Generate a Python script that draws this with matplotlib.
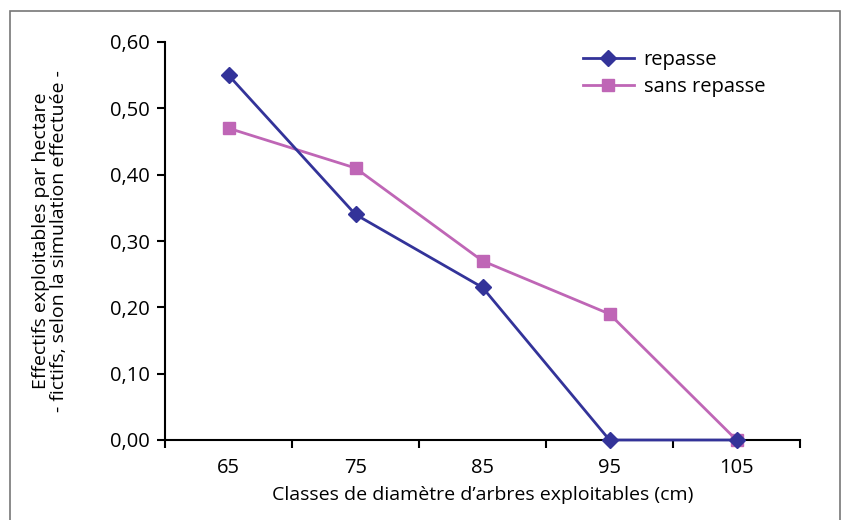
import matplotlib
matplotlib.use("Agg")
import matplotlib.pyplot as plt
from matplotlib.patches import Rectangle
from matplotlib.ticker import FixedLocator, FuncFormatter

categories = ["65", "75", "85", "95", "105"]
repasse = [0.55, 0.34, 0.23, 0.00, 0.00]
sans_repasse = [0.47, 0.41, 0.27, 0.19, 0.00]

plt.rcParams['font.family'] = ['Open Sans', 'DejaVu Sans']

fig = plt.figure(figsize=(8.44, 5.2), dpi=100)
ax = fig.add_axes([165/844, 1-440/520, (800-165)/844, (440-42)/520])

x = list(range(len(categories)))
ax.plot(x, repasse, color='#333399', marker='D', markersize=8, linewidth=2, label='repasse', clip_on=False, zorder=4)
ax.plot(x, sans_repasse, color='#bf66b6', marker='s', markersize=9, linewidth=2, label='sans repasse', clip_on=False, zorder=3)

ax.set_xlim(-0.5, len(categories) - 0.5)
ax.set_ylim(0, 0.6)
ax.set_yticks([0, 0.1, 0.2, 0.3, 0.4, 0.5, 0.6])
ax.yaxis.set_major_formatter(FuncFormatter(lambda v, p: f"{v:.2f}".replace('.', ',')))
ax.set_xticks(x)
ax.set_xticklabels(categories)
ax.xaxis.set_minor_locator(FixedLocator([i - 0.5 for i in range(len(categories) + 1)]))
ax.tick_params(axis='x', which='major', length=0, pad=13, labelsize=14.5)
ax.tick_params(axis='x', which='minor', length=6, width=1.5, direction='out')
ax.tick_params(axis='y', length=6, width=1.5, direction='out', labelsize=14.5, pad=5)

for s in ['top', 'right']:
    ax.spines[s].set_visible(False)
for s in ['left', 'bottom']:
    ax.spines[s].set_linewidth(1.5)

ax.set_xlabel("Classes de diamètre d\u2019arbres exploitables (cm)", fontsize=14, labelpad=6)
ax.set_ylabel("Effectifs exploitables par hectare\n- fictifs, selon la simulation effectuée -", fontsize=14, labelpad=30, linespacing=1.0)

leg = ax.legend(loc='upper left', bbox_to_anchor=(0.646, 1.0), frameon=False, fontsize=14.5,
                handlelength=2.5, handletextpad=0.5, labelspacing=0.35, borderaxespad=0.0)

fig.patches.append(Rectangle((10/844, -0.1), (840-10)/844, 1.1 - 11/520, transform=fig.transFigure,
                             fill=False, edgecolor='#777777', linewidth=1.2))

fig.savefig("out.png", dpi=100)
